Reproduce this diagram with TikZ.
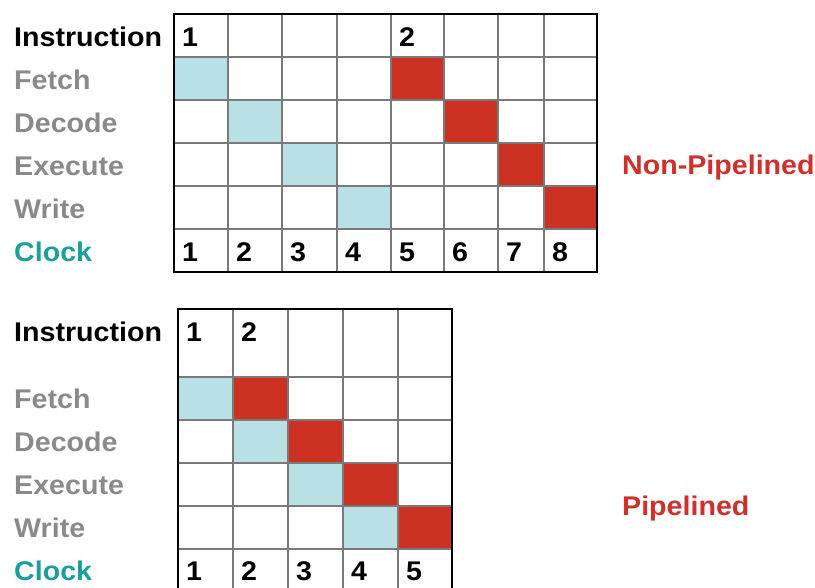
\documentclass[tikz,border=0pt]{standalone}
\usepackage{fontspec}
\setmainfont{Liberation Sans}[FakeStretch=1.06]
\definecolor{cellblue}{HTML}{B9E0E4}
\definecolor{cellred}{HTML}{CD3122}
\definecolor{txtred}{HTML}{D0302A}
\definecolor{txtgray}{HTML}{8A8A8A}
\definecolor{txtteal}{HTML}{1B9E9E}
\definecolor{gridgray}{HTML}{7A7A7A}
\tikzset{
  lab/.style={anchor=base west, inner sep=0pt, font=\fontsize{27}{30}\selectfont\bfseries},
  num/.style={lab, text=black},
  blue cell/.style={fill=cellblue},
  red cell/.style={fill=cellred},
  inner line/.style={draw=gridgray, line width=1.3pt},
  outer line/.style={draw=black, line width=2pt},
}
\begin{document}
\begin{tikzpicture}[x=1pt,y=-1pt]
\clip (0,0) rectangle (815,588);
\fill[white] (0,0) rectangle (815,588);
% ---------- top (non-pipelined) grid ----------
\def\TX{{174,228,282,337,391,444,498,544,597}}
\def\TY{{14,57,100,143,186,229,272}}
\foreach \c/\r in {1/1,2/2,3/3,4/4}{
  \pgfmathsetmacro\xa{\TX[\c-1]}\pgfmathsetmacro\xb{\TX[\c]}
  \pgfmathsetmacro\ya{\TY[\r]}\pgfmathsetmacro\yb{\TY[\r+1]}
  \fill[blue cell] (\xa,\ya) rectangle (\xb,\yb);
}
\foreach \c/\r in {5/1,6/2,7/3,8/4}{
  \pgfmathsetmacro\xa{\TX[\c-1]}\pgfmathsetmacro\xb{\TX[\c]}
  \pgfmathsetmacro\ya{\TY[\r]}\pgfmathsetmacro\yb{\TY[\r+1]}
  \fill[red cell] (\xa,\ya) rectangle (\xb,\yb);
}
\foreach \x in {228,282,337,391,444,498,544}{\draw[inner line] (\x,14) -- (\x,272);}
\foreach \y in {57,100,143,186,229}{\draw[inner line] (174,\y) -- (597,\y);}
\draw[outer line] (174,14) rectangle (597,272);
\node[lab, text=black]   (tInstr) at (14,47)  {Instruction};
\node[lab, text=txtgray] (tFetch) at (14,90)  {Fetch};
\node[lab, text=txtgray] (tDec)   at (14,133) {Decode};
\node[lab, text=txtgray] (tExe)   at (14,176) {Execute};
\node[lab, text=txtgray] (tWr)    at (14,219) {Write};
\node[lab, text=txtteal] (tClk)   at (14,262) {Clock};
\node[num] (tI1) at (182,47) {1};
\node[num] (tI2) at (399,47) {2};
\foreach \c in {1,...,8}{
  \pgfmathsetmacro\xa{\TX[\c-1]+8}
  \node[num] (tc\c) at (\xa,262) {\c};
}
\node[lab, text=txtred] (tNP) at (622,175) {Non-Pipelined};
% ---------- bottom (pipelined) grid ----------
\def\BX{{178,233,288,343,398,452}}
\def\BY{{309,377,420,463,506,549,600}}
\foreach \c/\r in {1/1,2/2,3/3,4/4}{
  \pgfmathsetmacro\xa{\BX[\c-1]}\pgfmathsetmacro\xb{\BX[\c]}
  \pgfmathsetmacro\ya{\BY[\r]}\pgfmathsetmacro\yb{\BY[\r+1]}
  \fill[blue cell] (\xa,\ya) rectangle (\xb,\yb);
}
\foreach \c/\r in {2/1,3/2,4/3,5/4}{
  \pgfmathsetmacro\xa{\BX[\c-1]}\pgfmathsetmacro\xb{\BX[\c]}
  \pgfmathsetmacro\ya{\BY[\r]}\pgfmathsetmacro\yb{\BY[\r+1]}
  \fill[red cell] (\xa,\ya) rectangle (\xb,\yb);
}
\foreach \x in {233,288,343,398}{\draw[inner line] (\x,309) -- (\x,600);}
\foreach \y in {377,420,463,506,549}{\draw[inner line] (178,\y) -- (452,\y);}
\draw[outer line] (178,309) rectangle (452,600);
\node[lab, text=black]   (bInstr) at (14,342) {Instruction};
\node[lab, text=txtgray] (bFetch) at (14,409) {Fetch};
\node[lab, text=txtgray] (bDec)   at (14,452) {Decode};
\node[lab, text=txtgray] (bExe)   at (14,494) {Execute};
\node[lab, text=txtgray] (bWr)    at (14,537) {Write};
\node[lab, text=txtteal] (bClk)   at (14,580) {Clock};
\node[num] (bI1) at (186,342) {1};
\node[num] (bI2) at (241,342) {2};
\foreach \c in {1,...,5}{
  \pgfmathsetmacro\xa{\BX[\c-1]+8}
  \node[num] (bc\c) at (\xa,580) {\c};
}
\node[lab, text=txtred] (bP) at (622,515) {Pipelined};
\end{tikzpicture}
\end{document}
